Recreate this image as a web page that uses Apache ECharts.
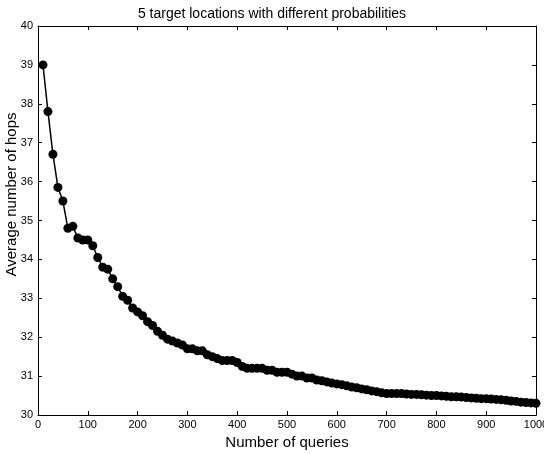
<!DOCTYPE html>
<html><head><meta charset="utf-8">
<script src="https://cdn.jsdelivr.net/npm/echarts@6/dist/echarts.min.js"></script>
<style>html,body{margin:0;padding:0;background:#fff}#c{width:544px;height:454px}</style>
</head><body><div id="c"></div>
<script>
const titleText = "5 target locations with different probabilities";
const xName = "Number of queries";
const yName = "Average number of hops";
const queries = [];
for (let q = 10; q <= 1000; q += 10) queries.push(q);
const hops = [
 39.0, 37.8, 36.7, 35.85, 35.5, 34.8, 34.85, 34.55, 34.5, 34.5,
 34.35, 34.05, 33.8, 33.75, 33.5, 33.3, 33.05, 32.95, 32.75, 32.65,
 32.55, 32.4, 32.3, 32.15, 32.05, 31.95, 31.9, 31.85, 31.8, 31.7,
 31.7, 31.65, 31.65, 31.55, 31.5, 31.45, 31.4, 31.4, 31.4, 31.35,
 31.25, 31.2, 31.2, 31.2, 31.2, 31.15, 31.15, 31.1, 31.1, 31.1,
 31.05, 31.0, 31.0, 30.95, 30.95, 30.9, 30.88, 30.85, 30.82, 30.8,
 30.78, 30.75, 30.72, 30.7, 30.67, 30.65, 30.62, 30.6, 30.57, 30.55,
 30.55, 30.55, 30.55, 30.54, 30.53, 30.53, 30.52, 30.51, 30.5, 30.5,
 30.49, 30.48, 30.47, 30.47, 30.46, 30.45, 30.44, 30.43, 30.42, 30.42,
 30.41, 30.4, 30.39, 30.38, 30.36, 30.35, 30.33, 30.32, 30.31, 30.3
];
const data = queries.map((q, i) => [q, hops[i]]);
const font = "Liberation Sans";
const chart = echarts.init(document.getElementById('c'));
const axisCommon = {
  axisLine: {show: true, onZero: false, lineStyle: {color: '#000', width: 1}},
  axisTick: {show: true, inside: true, length: 4, lineStyle: {color: '#000'}},
  splitLine: {show: false}
};
chart.setOption({
  animation: false,
  backgroundColor: '#fff',
  title: {text: titleText, left: 'center', top: 2,
    textStyle: {fontFamily: font, fontSize: 14, fontWeight: 'normal', color: '#000'}},
  grid: {left: 38, right: 8, top: 26, bottom: 39, containLabel: false, outerBoundsMode: 'none'},
  xAxis: [
    Object.assign({type: 'value', min: 0, max: 1000, interval: 100, position: 'bottom',
      name: xName, nameLocation: 'middle', nameGap: 15,
      nameTextStyle: {fontFamily: font, fontSize: 15, color: '#000'},
      axisLabel: {fontFamily: font, fontSize: 11, color: '#000', margin: 4, formatter: v => String(v)}}, axisCommon),
    Object.assign({type: 'value', min: 0, max: 1000, interval: 100, position: 'top',
      axisLabel: {show: false}}, axisCommon)
  ],
  yAxis: [
    Object.assign({type: 'value', min: 30, max: 40, interval: 1, position: 'left',
      name: yName, nameLocation: 'middle', nameGap: 19, nameMoveOverlap: false,
      nameTextStyle: {fontFamily: font, fontSize: 15, color: '#000', padding: [0, 0, 0, 52]},
      axisLabel: {fontFamily: font, fontSize: 11, color: '#000', margin: 5}}, axisCommon),
    Object.assign({type: 'value', min: 30, max: 40, interval: 1, position: 'right',
      axisLabel: {show: false}}, axisCommon)
  ],
  series: [{
    type: 'line', data: data, xAxisIndex: 0, yAxisIndex: 0,
    symbol: 'circle', symbolSize: 9,
    lineStyle: {color: '#000', width: 1.5},
    itemStyle: {color: '#000'}
  }]
});
</script></body></html>
